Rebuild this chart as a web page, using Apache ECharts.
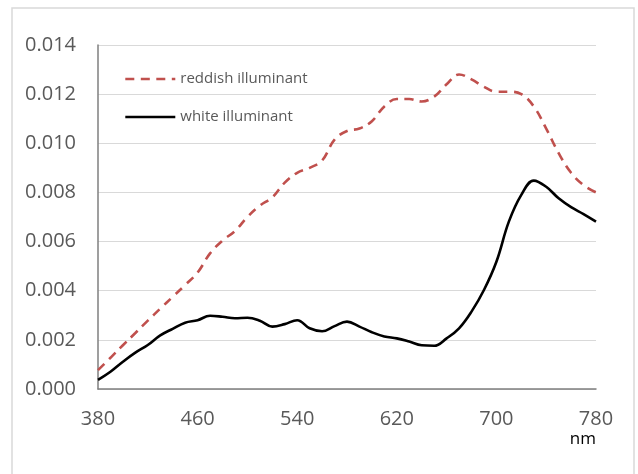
<!DOCTYPE html>
<html>
<head>
<meta charset="utf-8">
<script src="https://cdn.jsdelivr.net/npm/echarts@6/dist/echarts.min.js"></script>
<style>
  html, body { margin: 0; padding: 0; background: #fff; }
  #chart { width: 638px; height: 474px; }
</style>
</head>
<body>
<div id="chart"></div>
<script>
// wavelength (nm), 10 nm steps
const wavelengths = [
  380, 390, 400, 410, 420, 430, 440, 450, 460, 470,
  480, 490, 500, 510, 520, 530, 540, 550, 560, 570,
  580, 590, 600, 610, 620, 630, 640, 650, 660, 670,
  680, 690, 700, 710, 720, 730, 740, 750, 760, 770, 780
]
const reddish = [
  0.00077, 0.00127, 0.00178, 0.00228, 0.00278, 0.00327, 0.00375, 0.00423, 0.00474, 0.00552,
  0.00604, 0.00643, 0.00700, 0.00746, 0.00780, 0.00840, 0.00880, 0.00900, 0.00930, 0.01015,
  0.01050, 0.01060, 0.01090, 0.01150, 0.01180, 0.01180, 0.01170, 0.01190, 0.01240, 0.01280,
  0.01260, 0.01230, 0.01210, 0.01210, 0.01200, 0.01150, 0.01060, 0.00960, 0.00880, 0.00830, 0.00800
]
const white = [
  0.00037, 0.00070, 0.00111, 0.00148, 0.00179, 0.00218, 0.00245, 0.00270, 0.00280, 0.00298,
  0.00294, 0.00288, 0.00290, 0.00278, 0.00254, 0.00264, 0.00280, 0.00247, 0.00235, 0.00256,
  0.00274, 0.00254, 0.00231, 0.00214, 0.00206, 0.00193, 0.00178, 0.00176, 0.00206, 0.00247,
  0.00315, 0.00403, 0.00518, 0.00681, 0.00790, 0.00848, 0.00823, 0.00776, 0.00740, 0.00712, 0.00681
]
const yTicks = { min: 0, max: 0.014, step: 0.002 }

const chart = echarts.init(document.getElementById('chart'))
const font = '"Open Sans", sans-serif'
const redDash = [9, 6.5]

chart.setOption({
  animation: false,
  textStyle: { fontFamily: font },
  grid: { left: 98, right: 42, top: 45, bottom: 85 },
  legend: {
    orient: 'vertical',
    left: 119,
    top: 65,
    itemWidth: 50,
    itemHeight: 18,
    itemGap: 20,
    itemStyle: { opacity: 0 },
    textStyle: { fontSize: 15, color: '#595959', lineHeight: 18, fontFamily: font },
    data: [
      { name: 'reddish illuminant', lineStyle: { width: 2.6, type: redDash } },
      { name: 'white illuminant', lineStyle: { width: 2.6 } }
    ]
  },
  xAxis: {
    type: 'category',
    data: wavelengths.map(String),
    boundaryGap: false,
    axisLine: { lineStyle: { color: '#7f7f7f', width: 1.5 } },
    axisTick: { show: false },
    axisLabel: {
      interval: 7,
      margin: 20,
      fontSize: 20,
      color: '#595959',
      fontFamily: font
    },
    splitLine: { show: false }
  },
  yAxis: {
    type: 'value',
    min: yTicks.min,
    max: yTicks.max,
    interval: yTicks.step,
    axisLine: { show: true, lineStyle: { color: '#7f7f7f', width: 1.5 } },
    axisTick: { show: false },
    axisLabel: {
      margin: 22,
      fontSize: 20,
      color: '#595959',
      fontFamily: font,
      formatter: v => v.toFixed(3)
    },
    splitLine: { lineStyle: { color: '#d9d9d9', width: 1 } }
  },
  graphic: [
    {
      type: 'rect',
      shape: { x: 12, y: 8, width: 622, height: 480 },
      style: { fill: 'none', stroke: '#d9d9d9', lineWidth: 1.5 },
      silent: true
    },
    {
      type: 'text',
      right: 42,
      top: 431,
      style: { text: 'nm', fontSize: 17, fill: '#000', fontFamily: font }
    }
  ],
  series: [
    {
      name: 'reddish illuminant',
      type: 'line',
      data: reddish,
      smooth: 0.4,
      symbol: 'none',
      lineStyle: { color: '#C0504D', width: 2.6, type: redDash },
      itemStyle: { color: '#C0504D' }
    },
    {
      name: 'white illuminant',
      type: 'line',
      data: white,
      smooth: 0.4,
      symbol: 'none',
      lineStyle: { color: '#000', width: 2.6 },
      itemStyle: { color: '#000' }
    }
  ]
})
</script>
</body>
</html>
